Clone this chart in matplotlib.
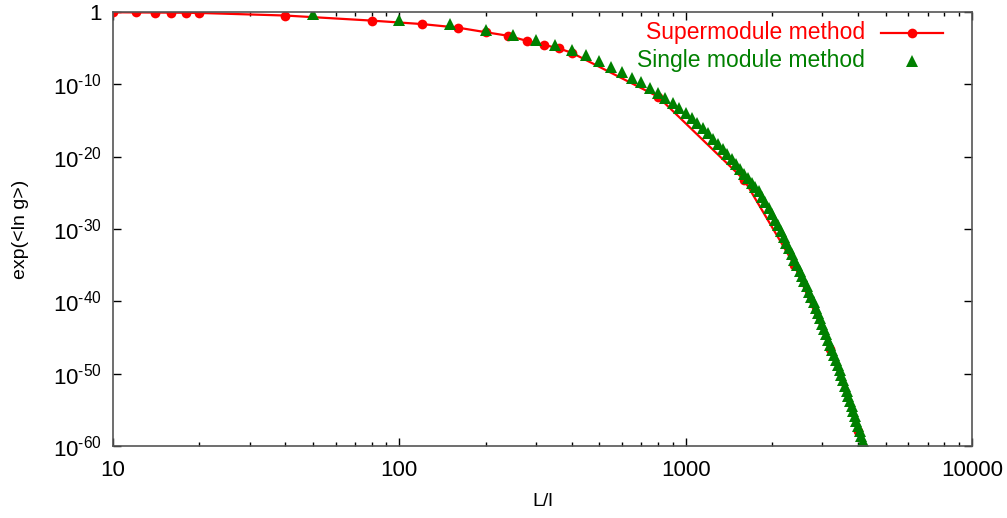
import numpy as np
import matplotlib
matplotlib.use('Agg')
import matplotlib.pyplot as plt
from matplotlib.ticker import FixedLocator, FixedFormatter, LogLocator, NullFormatter, NullLocator

plt.rcParams['font.family'] = ['Liberation Sans', 'DejaVu Sans']
plt.rcParams['mathtext.fontset'] = 'custom'
plt.rcParams['mathtext.rm'] = 'Liberation Sans'

# Supermodule method (red line + dots); y stored as -log10(exp(<ln g>))
super_L = [10, 12, 14, 16, 18, 20, 40, 80, 120, 160, 200, 240, 280, 320, 360, 400,
           800, 1600, 2400, 3200, 4000, 4800]
super_exp = [0.05, 0.07, 0.09, 0.1, 0.12, 0.14, 0.5, 1.2, 1.68, 2.17, 2.8, 3.3, 4.02, 4.56, 5.03, 5.65,
             11.7, 23.2, 35.0, 46.6, 57.9, 69.5]

# Single module method (green triangles)
single_L = [50, 100, 150, 200, 250, 300, 350, 400, 450, 500, 550, 600, 650, 700, 750, 800,
            850, 900, 950, 1000, 1050, 1100, 1150, 1200, 1250, 1300, 1350, 1400, 1450, 1500,
            1550, 1600, 1650, 1700, 1750, 1800, 1850, 1900, 1950, 2000, 2050, 2100, 2150, 2200,
            2250, 2300, 2350, 2400, 2450, 2500, 2550, 2600, 2650, 2700, 2750, 2800, 2850, 2900,
            2950, 3000, 3050, 3100, 3150, 3200, 3250, 3300, 3350, 3400, 3450, 3500, 3550, 3600,
            3650, 3700, 3750, 3800, 3850, 3900, 3950, 4000, 4050, 4100, 4150, 4200]
single_exp = [0.3, 1.15, 1.7, 2.45, 3.15, 3.85, 4.55, 5.3, 5.95, 6.75, 7.6, 8.35, 9.1, 9.75, 10.5, 11.2,
              11.9, 12.6, 13.3, 14.0, 14.7, 15.4, 16.1, 16.8, 17.5, 18.2, 18.9, 19.6, 20.3, 21.0,
              21.7, 22.35, 23.0, 23.6, 24.2, 24.8, 25.55, 26.3, 27.1, 27.9, 28.7, 29.5, 30.3, 31.1,
              31.9, 32.7, 33.5, 34.3, 35.0, 35.75, 36.5, 37.2, 37.95, 38.7, 39.4, 40.15, 40.9, 41.6,
              42.35, 43.1, 43.8, 44.55, 45.3, 46.0, 46.7, 47.4, 48.1, 48.8, 49.5, 50.2, 50.9, 51.65,
              52.35, 53.05, 53.75, 54.45, 55.15, 55.85, 56.55, 57.25, 57.95, 58.65, 59.35, 60.05]

ytick_vals = [1e0, 1e-10, 1e-20, 1e-30, 1e-40, 1e-50, 1e-60]
ytick_labels = ['1'] + [r'$\mathregular{10^{\text{-}%d}}$' % n for n in (10, 20, 30, 40, 50, 60)]
xtick_vals = [10, 100, 1000, 10000]
xtick_labels = ['10', '100', '1000', '10000']

red = '#ff0000'
green = '#008000'

fig = plt.figure(figsize=(10.07, 5.18), dpi=100)
ax = fig.add_axes([0.1122, 0.139, 0.853, 0.838])

ax.plot(super_L, 10.0 ** (-np.array(super_exp)), color=red, lw=1.6, marker='o',
        markersize=7, markeredgewidth=0)
ax.plot(single_L, 10.0 ** (-np.array(single_exp)), color=green, lw=0, marker='^',
        markersize=8, markeredgewidth=0)

ax.set_xscale('log')
ax.set_yscale('log')
ax.set_xlim(10, 10000)
ax.set_ylim(1e-60, 1)

ax.xaxis.set_major_locator(FixedLocator(xtick_vals))
ax.xaxis.set_major_formatter(FixedFormatter(xtick_labels))
ax.xaxis.set_minor_locator(LogLocator(base=10, subs=np.arange(2, 10)))
ax.xaxis.set_minor_formatter(NullFormatter())
ax.yaxis.set_major_locator(FixedLocator(ytick_vals))
ax.yaxis.set_major_formatter(FixedFormatter(ytick_labels))
ax.yaxis.set_minor_locator(NullLocator())

ax.tick_params(which='both', direction='in', top=True, right=True, labelsize=16,
               color='black', width=1)
ax.tick_params(which='major', length=6)
ax.tick_params(axis='x', which='major', pad=10)
ax.tick_params(axis='y', which='major', pad=8)
ax.tick_params(which='minor', length=3)
for s in ax.spines.values():
    s.set_color('#555555')
    s.set_linewidth(1.2)

ax.set_xlabel('L/l', fontsize=14, labelpad=9)
ax.set_ylabel('exp(<ln g>)', fontsize=14, labelpad=17)

# legend, gnuplot style (right-aligned text, sample on the right)
ax.text(0.8754, 0.952, 'Supermodule method', color=red, fontsize=16.5, ha='right', va='center',
        transform=ax.transAxes)
ax.plot([0.894, 0.966], [0.952, 0.952], color=red, lw=1.6, transform=ax.transAxes, clip_on=False)
ax.plot([0.930], [0.952], color=red, marker='o', markersize=7, markeredgewidth=0,
        transform=ax.transAxes, clip_on=False)
ax.text(0.8754, 0.888, 'Single module method', color=green, fontsize=16.5, ha='right', va='center',
        transform=ax.transAxes)
ax.plot([0.930], [0.888], color=green, marker='^', markersize=8, markeredgewidth=0,
        transform=ax.transAxes, clip_on=False)

fig.savefig('out.png', dpi=100)
